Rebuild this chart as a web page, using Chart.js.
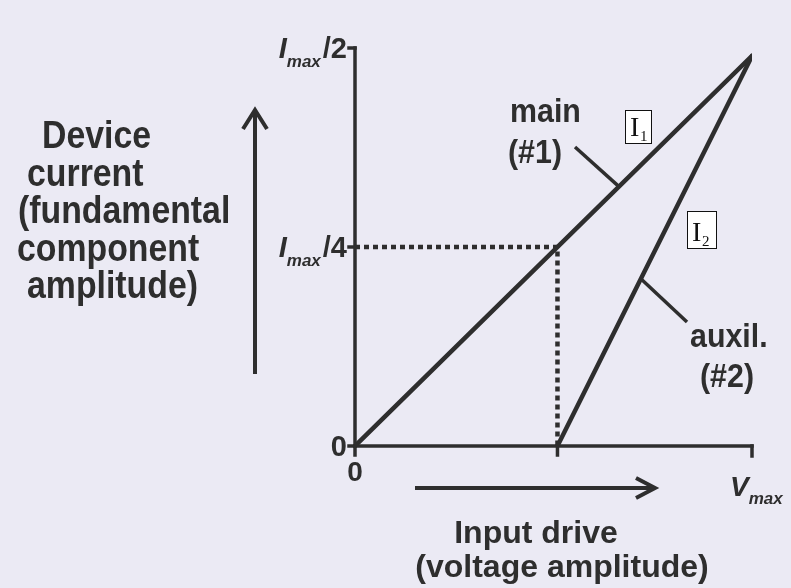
<!DOCTYPE html>
<html>
<head>
<meta charset="utf-8">
<script src="https://cdn.jsdelivr.net/npm/chart.js@4/dist/chart.umd.min.js"></script>
<style>
  html, body { margin: 0; padding: 0; background: #ebeaf4; }
  #wrap { width: 791px; height: 588px; position: relative; }
</style>
</head>
<body>
<div id="wrap"><canvas id="ampChart" width="791" height="588"></canvas></div>
<script>
// drive normalised to Vmax, current in units of Imax
const mainDrive = [0, 1];
const mainCurrent = [0, 0.49];
const auxDrive = [0.51, 1];
const auxCurrent = [0, 0.49];
const guideDrive = [0, 0.51, 0.51];
const guideCurrent = [0.25, 0.25, 0];

const yTicks = [0, 0.25, 0.5];
const yTickLabels = ['0', 'I_max/4', 'I_max/2'];
const xTicks = [0, 0.51, 1];
const xTickLabels = ['0', '', 'V_max'];

const INK = '#2e2e2e';
const SANS = '"Liberation Sans", Arial, Helvetica, sans-serif';

const pts = (xs, ys) => xs.map((x, i) => ({ x: x, y: ys[i] }));

// draws "I_max/2" style text: italic letter, italic subscript, then the rest
function drawSubLabel(ctx, label, x, y, align, size) {
    const m = label.match(/^(\w)_(\w+)(.*)$/);
    if (!m) {
        ctx.font = `bold ${size}px ${SANS}`;
        ctx.textAlign = align;
        ctx.fillText(label, x, y);
        return;
    }
    const subSize = Math.round(size * 0.6);
    ctx.font = `italic bold ${size}px ${SANS}`;
    const wBase = ctx.measureText(m[1]).width;
    ctx.font = `italic bold ${subSize}px ${SANS}`;
    const wSub = ctx.measureText(m[2]).width;
    ctx.font = `bold ${size}px ${SANS}`;
    const wRest = ctx.measureText(m[3]).width;
    const total = wBase + wSub + wRest + 2;
    let left = align === 'right' ? x - total : (align === 'center' ? x - total / 2 : x);
    ctx.textAlign = 'left';
    ctx.font = `italic bold ${size}px ${SANS}`;
    ctx.fillText(m[1], left, y);
    ctx.font = `italic bold ${subSize}px ${SANS}`;
    ctx.fillText(m[2], left + wBase, y + size * 0.3);
    ctx.font = `bold ${size}px ${SANS}`;
    ctx.fillText(m[3], left + wBase + wSub + 2, y);
}

function line(ctx, x1, y1, x2, y2) {
    ctx.beginPath();
    ctx.moveTo(x1, y1);
    ctx.lineTo(x2, y2);
    ctx.stroke();
}

// bold condensed text, as in the original typesetting
function narrowText(ctx, text, x, y, squeeze) {
    ctx.save();
    ctx.translate(x, y);
    ctx.scale(squeeze, 1);
    ctx.fillText(text, 0, 0);
    ctx.restore();
}

function boxedLabel(ctx, x, y, w, h, sub) {
    ctx.fillStyle = '#ffffff';
    ctx.fillRect(x, y, w, h);
    ctx.strokeStyle = '#111';
    ctx.lineWidth = 1;
    ctx.strokeRect(x + 0.5, y + 0.5, w - 1, h - 1);
    ctx.fillStyle = '#111';
    ctx.textAlign = 'left';
    ctx.font = '28px "Liberation Serif", "DejaVu Serif", serif';
    ctx.fillText('I', x + 5, y + h - 8);
    ctx.font = '15px "Liberation Serif", "DejaVu Serif", serif';
    ctx.fillText(sub, x + 15, y + h - 3);
}

// axes, ticks and tick labels, drawn off the chart scales
const axesPlugin = {
    id: 'axesPlugin',
    beforeDatasetsDraw(chart) {
        const ctx = chart.ctx;
        const xs = chart.scales.x, ys = chart.scales.y;
        const x0 = xs.getPixelForValue(0), y0 = ys.getPixelForValue(0);
        const xEnd = xs.getPixelForValue(1), yTop = ys.getPixelForValue(0.5);
        ctx.save();
        ctx.strokeStyle = INK;
        ctx.lineCap = 'square';
        ctx.lineWidth = 3.5;
        line(ctx, x0, yTop, x0, y0);
        line(ctx, x0, y0, xEnd, y0);
        yTicks.forEach(v => {
            const py = ys.getPixelForValue(v);
            line(ctx, x0 - 6, py, x0, py);
        });
        xTicks.forEach((v, i) => {
            const px = xs.getPixelForValue(v);
            line(ctx, px, y0, px, y0 + (i === xTicks.length - 1 ? 10 : 9));
        });
        ctx.fillStyle = INK;
        ctx.textBaseline = 'alphabetic';
        yTicks.forEach((v, i) => {
            const py = ys.getPixelForValue(v);
            drawSubLabel(ctx, yTickLabels[i], x0 - 8, py + 10, 'right', 29);
        });
        xTicks.forEach((v, i) => {
            if (!xTickLabels[i]) return;
            const px = xs.getPixelForValue(v);
            if (i === 0) drawSubLabel(ctx, xTickLabels[i], px, y0 + 35, 'center', 28);
            else drawSubLabel(ctx, xTickLabels[i], px - 22, y0 + 50, 'left', 28);
        });
        ctx.restore();
    },
    afterDraw(chart) {
        const ctx = chart.ctx;
        const xs = chart.scales.x, ys = chart.scales.y;
        ctx.save();
        ctx.fillStyle = INK;
        ctx.strokeStyle = INK;
        ctx.textAlign = 'left';

        // vertical axis title
        ctx.font = `bold 38px ${SANS}`;
        const yTitle = ['Device', 'current', '(fundamental', 'component', 'amplitude)'];
        const yTitleX = [42, 27, 18, 17, 27];
        yTitle.forEach((t, i) => narrowText(ctx, t, yTitleX[i], 148 + i * 37.5, 0.89));

        // horizontal axis title
        ctx.font = `bold 32px ${SANS}`;
        ctx.textAlign = 'center';
        ctx.fillText('Input drive', 536, 543);
        ctx.fillText('(voltage amplitude)', 562, 577);

        // direction arrows
        ctx.lineWidth = 4;
        ctx.lineCap = 'butt';
        line(ctx, 255, 110, 255, 374);
        ctx.beginPath();
        ctx.moveTo(243, 129); ctx.lineTo(255, 110); ctx.lineTo(267, 129);
        ctx.stroke();
        line(ctx, 415, 488, 653, 488);
        ctx.beginPath();
        ctx.moveTo(636, 478); ctx.lineTo(655, 488); ctx.lineTo(636, 498);
        ctx.stroke();

        // curve labels with leaders
        ctx.textAlign = 'left';
        ctx.font = `bold 33px ${SANS}`;
        narrowText(ctx, 'main', 510, 122, 0.92);
        narrowText(ctx, '(#1)', 508, 163, 0.92);
        narrowText(ctx, 'auxil.', 690, 347, 0.92);
        narrowText(ctx, '(#2)', 700, 387, 0.92);
        ctx.lineWidth = 3.5;
        const mx = 0.665;
        line(ctx, 575, 147, xs.getPixelForValue(mx), ys.getPixelForValue(mx * mainCurrent[1]));
        const ax = 0.72;
        const ay = (ax - auxDrive[0]) / (auxDrive[1] - auxDrive[0]) * auxCurrent[1];
        line(ctx, 687, 322, xs.getPixelForValue(ax), ys.getPixelForValue(ay));

        boxedLabel(ctx, 625, 110, 27, 34, '1');
        boxedLabel(ctx, 687, 211, 30, 38, '2');
        ctx.restore();
    }
};

new Chart(document.getElementById('ampChart'), {
    type: 'line',
    data: {
        datasets: [
            { label: 'main (#1)', data: pts(mainDrive, mainCurrent), borderColor: INK, borderWidth: 4.5, borderCapStyle: 'round' },
            { label: 'auxil. (#2)', data: pts(auxDrive, auxCurrent), borderColor: INK, borderWidth: 4.5, borderCapStyle: 'round' },
            { label: 'Imax/4 guide', data: pts(guideDrive, guideCurrent), borderColor: INK, borderWidth: 4.5, borderDash: [5, 4], borderCapStyle: 'butt' }
        ]
    },
    options: {
        responsive: false,
        animation: false,
        events: [],
        layout: { padding: { left: 355, right: 39, top: 48, bottom: 142 } },
        elements: { point: { radius: 0 }, line: { tension: 0, fill: false } },
        scales: {
            x: { type: 'linear', min: 0, max: 1, display: false },
            y: { type: 'linear', min: 0, max: 0.5, display: false }
        },
        plugins: { legend: { display: false }, tooltip: { enabled: false } }
    },
    plugins: [axesPlugin]
});
</script>
</body>
</html>
